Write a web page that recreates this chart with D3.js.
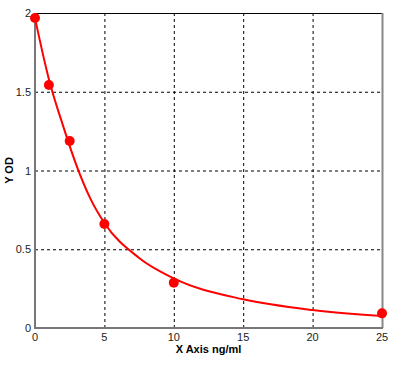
<!DOCTYPE html>
<html>
<head>
<meta charset="utf-8">
<script src="https://cdn.jsdelivr.net/npm/d3@7"></script>
<style>
  body { margin: 0; background: #fff; }
  svg { display: block; font-family: Arial, "Liberation Sans", sans-serif; }
</style>
</head>
<body>
<svg id="chart" width="413" height="378"></svg>
<script>
// measured points (ng/ml, OD)
var conc = [0, 1, 2.5, 5, 10, 25];
var od = [1.968, 1.543, 1.187, 0.66, 0.288, 0.093];

// fitted curve
var curveX = [0, 1, 2, 3, 4, 5, 7.5, 10, 15, 20, 25];
var curveY = [1.968, 1.58, 1.29, 1.03, 0.82, 0.667, 0.445, 0.315, 0.182, 0.114, 0.076];

var xTicks = [0, 5, 10, 15, 20, 25];
var yTicks = [0, 0.5, 1, 1.5, 2];

// note: "top" clashes with window.top, so plot edges get their own names
var plotLeft = 35, plotRight = 382, plotTop = 13, plotBottom = 328;

var svg = d3.select('#chart');

var x = d3.scaleLinear().domain([0, 25]).range([plotLeft, plotRight]);
var y = d3.scaleLinear().domain([0, 2]).range([plotBottom, plotTop]);

// grid
svg.append('g')
    .selectAll('line')
    .data(xTicks.filter(function(d) { return d > 0 && d < 25; }))
    .enter().append('line')
    .attr('x1', function(d) { return x(d) + 0.5; })
    .attr('x2', function(d) { return x(d) + 0.5; })
    .attr('y1', plotTop)
    .attr('y2', plotBottom)
    .attr('stroke', '#000')
    .attr('stroke-dasharray', '3,3');

svg.append('g')
    .selectAll('line')
    .data(yTicks.filter(function(d) { return d > 0 && d < 2; }))
    .enter().append('line')
    .attr('x1', plotLeft)
    .attr('x2', plotRight)
    .attr('y1', function(d) { return y(d) + 0.5; })
    .attr('y2', function(d) { return y(d) + 0.5; })
    .attr('stroke', '#000')
    .attr('stroke-dasharray', '3,3');

// frame
svg.append('line')
    .attr('x1', plotLeft).attr('x2', plotRight)
    .attr('y1', plotTop + 0.5).attr('y2', plotTop + 0.5)
    .attr('stroke', '#000');
svg.append('line')
    .attr('x1', plotRight + 0.5).attr('x2', plotRight + 0.5)
    .attr('y1', plotTop).attr('y2', plotBottom)
    .attr('stroke', '#888').attr('stroke-width', 2);
svg.append('line')
    .attr('x1', plotLeft).attr('x2', plotLeft)
    .attr('y1', plotTop).attr('y2', plotBottom + 1)
    .attr('stroke', '#777').attr('stroke-width', 2);
svg.append('line')
    .attr('x1', plotLeft).attr('x2', plotRight + 1)
    .attr('y1', plotBottom).attr('y2', plotBottom)
    .attr('stroke', '#777').attr('stroke-width', 2);

// tick labels
svg.append('g')
    .selectAll('text')
    .data(yTicks)
    .enter().append('text')
    .attr('x', 31)
    .attr('y', function(d) { return y(d) + 4; })
    .attr('text-anchor', 'end')
    .attr('font-size', 11)
    .attr('fill', '#222')
    .text(function(d) { return d; });

svg.append('g')
    .selectAll('text')
    .data(xTicks)
    .enter().append('text')
    .attr('x', function(d) { return x(d); })
    .attr('y', 341)
    .attr('text-anchor', 'middle')
    .attr('font-size', 11)
    .attr('fill', '#222')
    .text(function(d) { return d; });

// axis titles
svg.append('text')
    .attr('x', (plotLeft + plotRight) / 2)
    .attr('y', 353)
    .attr('text-anchor', 'middle')
    .attr('font-size', 11)
    .attr('font-weight', 'bold')
    .text('X Axis ng/ml');

svg.append('text')
    .attr('transform', 'translate(13,' + (plotTop + plotBottom) / 2 + ') rotate(-90)')
    .attr('text-anchor', 'middle')
    .attr('font-size', 11)
    .attr('font-weight', 'bold')
    .text('Y OD');

// curve
var line = d3.line()
    .x(function(d) { return x(d[0]); })
    .y(function(d) { return y(d[1]); })
    .curve(d3.curveMonotoneX);

svg.append('path')
    .datum(d3.zip(curveX, curveY))
    .attr('d', line)
    .attr('fill', 'none')
    .attr('stroke', '#ff0000')
    .attr('stroke-width', 2);

// points
svg.append('g')
    .selectAll('circle')
    .data(d3.zip(conc, od))
    .enter().append('circle')
    .attr('cx', function(d) { return x(d[0]); })
    .attr('cy', function(d) { return y(d[1]); })
    .attr('r', 5)
    .attr('fill', '#ff0000');
</script>
</body>
</html>
